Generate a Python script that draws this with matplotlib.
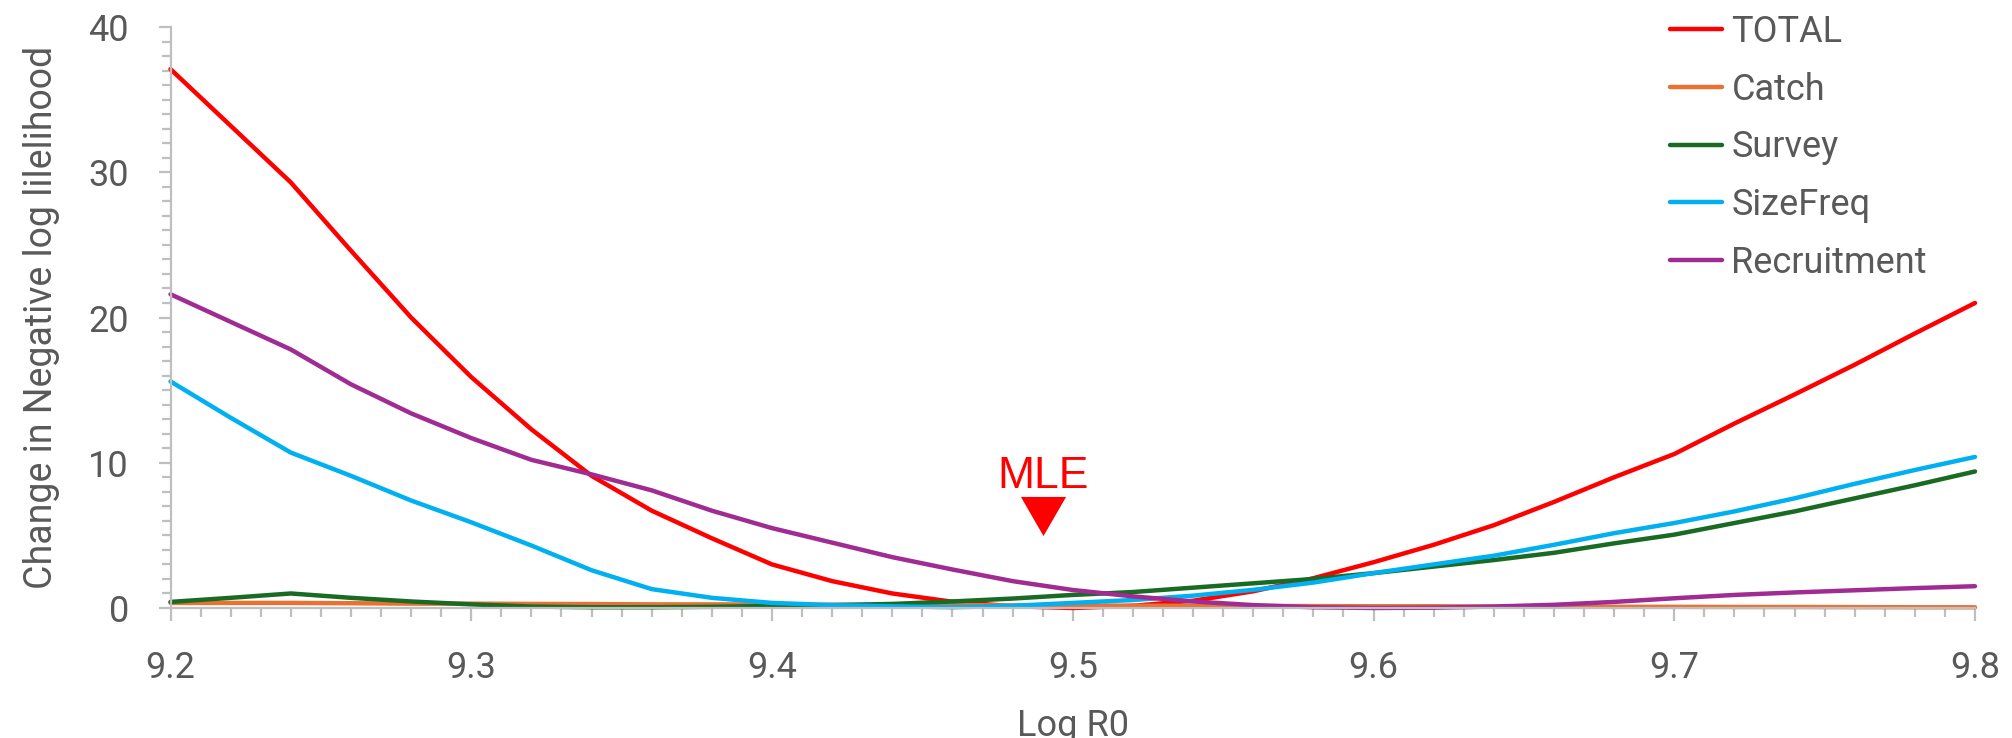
import matplotlib
matplotlib.use("Agg")
import matplotlib.pyplot as plt
from matplotlib.ticker import MultipleLocator

# ---- data ----
log_r0 = [9.20, 9.22, 9.24, 9.26, 9.28, 9.30, 9.32, 9.34, 9.36, 9.38, 9.40,
          9.42, 9.44, 9.46, 9.48, 9.50, 9.52, 9.54, 9.56, 9.58, 9.60,
          9.62, 9.64, 9.66, 9.68, 9.70, 9.72, 9.74, 9.76, 9.78, 9.80]

total = [37.1, 33.2, 29.3, 24.6, 20.0, 15.9, 12.3, 9.1, 6.7, 4.8, 3.0,
         1.85, 1.0, 0.43, 0.12, 0.0, 0.15, 0.5, 1.15, 2.05, 3.15,
         4.35, 5.7, 7.3, 9.0, 10.6, 12.7, 14.7, 16.75, 18.9, 21.0]

catch = [0.35, 0.35, 0.35, 0.33, 0.30, 0.30, 0.28, 0.27, 0.25, 0.25, 0.24,
         0.22, 0.20, 0.20, 0.18, 0.17, 0.16, 0.15, 0.14, 0.13, 0.12,
         0.12, 0.10, 0.10, 0.08, 0.08, 0.07, 0.07, 0.06, 0.05, 0.05]

survey = [0.42, 0.7, 1.0, 0.7, 0.45, 0.25, 0.1, 0.05, 0.05, 0.08, 0.14,
          0.2, 0.28, 0.45, 0.65, 0.9, 1.1, 1.4, 1.7, 2.0, 2.4,
          2.85, 3.3, 3.8, 4.45, 5.05, 5.85, 6.65, 7.55, 8.45, 9.4]

sizefreq = [15.6, 13.1, 10.7, 9.1, 7.4, 5.9, 4.3, 2.6, 1.3, 0.7, 0.35,
            0.2, 0.12, 0.05, 0.15, 0.35, 0.55, 0.85, 1.25, 1.75, 2.4,
            3.0, 3.6, 4.35, 5.15, 5.85, 6.65, 7.55, 8.55, 9.5, 10.4]

recruitment = [21.6, 19.7, 17.8, 15.4, 13.4, 11.7, 10.2, 9.2, 8.1, 6.7, 5.5,
               4.5, 3.5, 2.65, 1.85, 1.24, 0.8, 0.45, 0.2, 0.05, 0.0,
               0.02, 0.1, 0.22, 0.42, 0.67, 0.9, 1.07, 1.22, 1.37, 1.5]

series_names = ["TOTAL", "Catch", "Survey", "SizeFreq", "Recruitment"]
series_values = [total, catch, survey, sizefreq, recruitment]
series_colors = ["#FF0000", "#E97132", "#196B24", "#00B0F0", "#A02B93"]

mle_x = 9.49
mle_label = "MLE"

x_label = "Log R0"
y_label = "Change in Negative log lilelihood"

# ---- figure ----
plt.rcParams['font.family'] = ['Roboto', 'DejaVu Sans']
fig = plt.figure(figsize=(20.12, 7.38), dpi=100)
ax = fig.add_axes([170.5 / 2012, 130 / 738, (1975 - 170.5) / 2012, (711 - 130) / 738])

for name, vals, col in zip(series_names, series_values, series_colors):
    ax.plot(log_r0, vals, color=col, lw=3.2, label=name, clip_on=False,
            solid_joinstyle='round', solid_capstyle='round')

ax.set_xlim(9.2, 9.8)
ax.set_ylim(0, 40)
ax.xaxis.set_major_locator(MultipleLocator(0.1))
ax.xaxis.set_minor_locator(MultipleLocator(0.01))
ax.yaxis.set_major_locator(MultipleLocator(10))
ax.yaxis.set_minor_locator(MultipleLocator(1))
ax.xaxis.set_major_formatter(plt.FuncFormatter(lambda v, p: f"{v:.1f}"))

for s in ['top', 'right']:
    ax.spines[s].set_visible(False)
for s in ['left', 'bottom']:
    ax.spines[s].set_color('#BFBFBF')
    ax.spines[s].set_linewidth(1.6)

ax.tick_params(which='major', direction='out', length=9, width=1.6,
               color='#BFBFBF', labelcolor='#595959', labelsize=26, pad=21)
ax.tick_params(which='minor', direction='out', length=6.7, width=1.6,
               color='#BFBFBF')

ax.set_xlabel(x_label, fontsize=26, color='#595959', labelpad=16)
ax.set_ylabel(y_label, fontsize=27, color='#595959', labelpad=20)

# MLE annotation
ax.text(mle_x, 8.24, mle_label, color='#FF0000', fontsize=32,
        ha='center', va='baseline', family=['Liberation Sans', 'DejaVu Sans'])
ax.plot([mle_x], [6.3], linestyle='none', color='#FF0000',
        marker=[(-1, 0.8665), (1, 0.8665), (0, -0.8665)], markersize=32.5,
        markeredgewidth=0)

leg = fig.legend(loc='upper left', bbox_to_anchor=(1670 / 2012, 1 - 14 / 738),
                 frameon=False, fontsize=26, handlelength=1.45,
                 handletextpad=0.25, labelspacing=0.6, borderpad=0,
                 borderaxespad=0)
for t in leg.get_texts():
    t.set_color('#595959')

fig.savefig("out.png", dpi=100)
